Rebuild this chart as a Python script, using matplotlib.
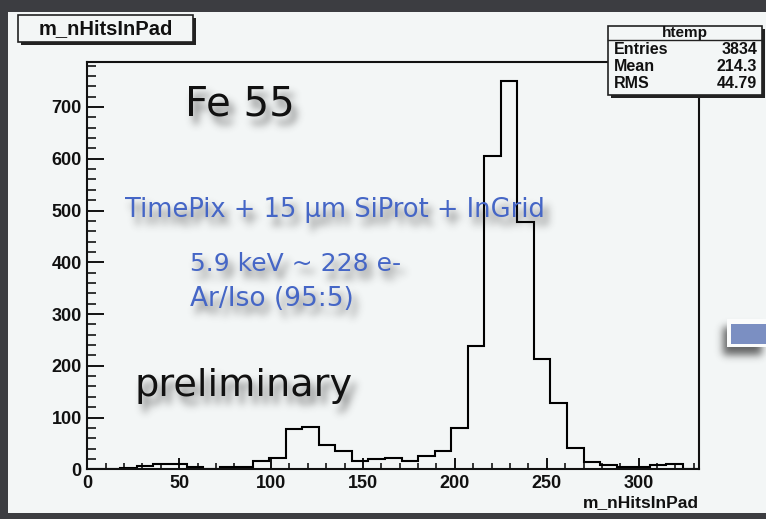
import numpy as np
import matplotlib
matplotlib.use("Agg")
import matplotlib.pyplot as plt
from matplotlib.patches import Rectangle
from matplotlib.lines import Line2D
from matplotlib.ticker import MultipleLocator

# ---- histogram data (number of hit pads per event, Fe-55 source) ----
bin_edges = np.arange(0, 334, 9)
counts = [0, 0, 3, 7, 10, 11, 5, 1, 4, 4,
          17, 22, 77, 82, 46, 36, 17, 20, 22, 17,
          26, 36, 79, 238, 605, 750, 477, 213, 129, 42,
          15, 8, 4, 4, 8, 11, 0]

hist_name = "htemp"
var_name = "m_nHitsInPad"
stats_labels = ["Entries", "Mean", "RMS"]
stats_values = ["3834", "214.3", "44.79"]

source_label = "Fe 55"
setup_label = "TimePix + 15 \u03bcm SiProt + InGrid"
energy_label = "5.9 keV ~ 228 e-"
gas_label = "Ar/Iso (95:5)"
status_label = "preliminary"

W, H = 766, 519
fig = plt.figure(figsize=(W / 100, H / 100), dpi=100, facecolor="#3c3d41")


def fx(x):
    return x / W


def fy(y):
    return 1 - y / H


def gauss_blur(a, sigma):
    r = max(1, int(3 * sigma))
    k = np.exp(-0.5 * (np.arange(-r, r + 1) / sigma) ** 2)
    k /= k.sum()
    a = np.apply_along_axis(lambda v: np.convolve(v, k, mode="same"), 0, a)
    a = np.apply_along_axis(lambda v: np.convolve(v, k, mode="same"), 1, a)
    return a


class SoftShadow:
    """agg filter: replaces an artist by a blurred, offset grey copy."""

    def __init__(self, sigma=4.0, alpha=0.6, dx=5, dy=7, color=(0.15, 0.15, 0.15)):
        self.sigma, self.alpha, self.dx, self.dy, self.color = sigma, alpha, dx, dy, color

    def __call__(self, im, dpi):
        pad = int(3 * self.sigma + max(abs(self.dx), abs(self.dy))) + 2
        src = np.pad(im[:, :, 3], pad)
        src = np.roll(src, self.dx, axis=1)
        src = np.roll(src, self.dy, axis=0)
        a = gauss_blur(src, self.sigma) * self.alpha
        out = np.empty(src.shape + (4,))
        out[..., :3] = self.color
        out[..., 3] = np.clip(a, 0, 1)
        return out, -pad, -pad


def rect(x0, y0, x1, y1, **kw):
    r = Rectangle((fx(x0), fy(y1)), (x1 - x0) / W, (y1 - y0) / H,
                  transform=fig.transFigure, **kw)
    fig.add_artist(r)
    return r


def fline(xs, ys, **kw):
    ln = Line2D([fx(x) for x in xs], [fy(y) for y in ys],
                transform=fig.transFigure, **kw)
    fig.add_artist(ln)
    return ln


# light canvas of the ROOT pad
rect(8, 12, W + 5, 513, facecolor="#f3f6f6", edgecolor="none", zorder=0)

# ---- the histogram frame ----
ax = fig.add_axes([fx(87.3), fy(469.3), (699.3 - 87.3) / W, (469.3 - 61.7) / H])
ax.set_zorder(2)
ax.patch.set_alpha(0)
ax.stairs(counts, bin_edges, color="black", linewidth=1.5)
ax.set_xlim(0, 333)
ax.set_ylim(0, 1.05 * max(counts))

for s in ax.spines.values():
    s.set_linewidth(1.5)
    s.set_color("#111111")

ax.xaxis.set_major_locator(MultipleLocator(50))
ax.xaxis.set_minor_locator(MultipleLocator(10))
ax.yaxis.set_major_locator(MultipleLocator(100))
ax.yaxis.set_minor_locator(MultipleLocator(20))
ax.tick_params(axis="x", which="major", direction="in", length=8, width=1.3, pad=4,
               top=False)
ax.tick_params(axis="x", which="minor", direction="in", length=4.5, width=1.1, top=False)
ax.tick_params(axis="y", which="major", direction="in", length=12.5, width=1.3, pad=4,
               right=False)
ax.tick_params(axis="y", which="minor", direction="in", length=6.5, width=1.1, right=False)
for lab in ax.get_xticklabels() + ax.get_yticklabels():
    lab.set_fontfamily("Liberation Sans")
    lab.set_fontweight("bold")
    lab.set_fontsize(13)
    lab.set_color("#111111")

fig.text(fx(699), fy(503), var_name, ha="right", va="center",
         fontfamily="Liberation Sans", fontweight="bold", fontsize=12.5,
         color="#111111", zorder=4)

# ---- title box ----
rect(21, 18, 196, 45, facecolor="#222222", edgecolor="none", zorder=3)
rect(18, 15, 193, 42, facecolor="#f3f6f6", edgecolor="#222222", linewidth=1.2, zorder=3.1)
fig.text(fx(105.5), fy(28.5), var_name, ha="center", va="center",
         fontfamily="Liberation Sans", fontweight="bold", fontsize=14.5,
         color="#111111", zorder=3.2)

# ---- statistics box ----
rect(611, 29, 765, 98, facecolor="#222222", edgecolor="none", zorder=6)
rect(608, 26, 762, 95, facecolor="#f3f6f6", edgecolor="#222222", linewidth=1.2, zorder=6.1)
fline([608, 762], [40, 40], color="#222222", linewidth=1.0, zorder=6.2)
fig.text(fx(685), fy(33), hist_name, ha="center", va="center",
         fontfamily="Liberation Sans", fontweight="bold", fontsize=11,
         color="#111111", zorder=6.3)
for i, (lab, val) in enumerate(zip(stats_labels, stats_values)):
    yy = 49 + i * 17.5
    fig.text(fx(614), fy(yy), lab, ha="left", va="center",
             fontfamily="Liberation Sans", fontweight="bold", fontsize=11.5,
             color="#111111", zorder=6.3)
    fig.text(fx(757), fy(yy), val, ha="right", va="center",
             fontfamily="Liberation Sans", fontweight="bold", fontsize=11.5,
             color="#111111", zorder=6.3)

# ---- slide annotations with soft drop shadows ----
def shadow_text(x, y, s, size, color, sh_alpha=0.65):
    kw = dict(ha="left", va="center", fontfamily="DejaVu Sans", fontsize=size)
    sh = fig.text(fx(x), fy(y), s, color="black", zorder=7, **kw)
    sh.set_agg_filter(SoftShadow(sigma=4.0, alpha=sh_alpha, dx=5, dy=8))
    fig.text(fx(x), fy(y), s, color=color, zorder=8, **kw)


blue = "#4566c6"
shadow_text(185, 104, source_label, 29, "#111111")
shadow_text(125, 210, setup_label, 18.5, blue)
shadow_text(190, 264, energy_label, 18, blue)
shadow_text(190, 299, gas_label, 19, blue)
shadow_text(135, 386, status_label, 27.5, "#111111")

# small box on the right border of the slide
sh = rect(727, 319, W + 5, 347, facecolor="black", edgecolor="none", zorder=7)
sh.set_agg_filter(SoftShadow(sigma=4.0, alpha=0.7, dx=-4, dy=8))
rect(727, 319, W + 5, 347, facecolor="#fbfcfc", edgecolor="none", zorder=8)
rect(731, 324, W + 5, 344, facecolor="#7b8fc2", edgecolor="none", zorder=8.1)

fig.savefig("out.png", dpi=100, facecolor=fig.get_facecolor())
